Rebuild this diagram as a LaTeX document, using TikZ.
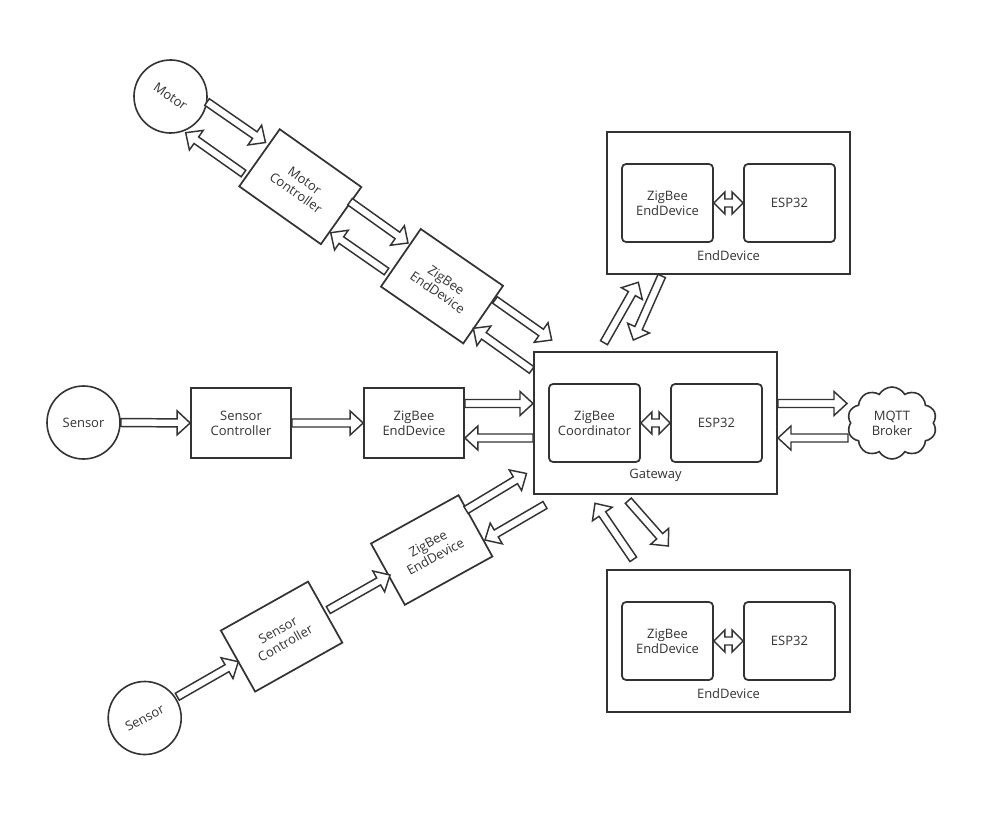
\documentclass[tikz,border=0pt]{standalone}
\usepackage{fontspec}
\setmainfont{Open Sans}
\usetikzlibrary{calc,shapes.symbols}
\definecolor{ink}{HTML}{333333}
\newcommand{\fs}{\fontsize{9.75}{11.3}\selectfont}
\tikzset{
  outer/.style={draw=ink, line width=1.5pt, minimum width=182.25pt, minimum height=106.5pt},
  inner/.style={draw=ink, line width=1.3pt, rounded corners=3pt, minimum width=68.25pt, minimum height=58.5pt, align=center, font=\fs, text=ink, inner sep=0pt},
  box/.style={draw=ink, line width=1.3pt, minimum width=75pt, minimum height=52.5pt, align=center, font=\fs, text=ink, inner sep=0pt},
  circ/.style={circle, draw=ink, line width=1.2pt, minimum size=54.75pt, inner sep=0pt, font=\fs, text=ink},
  lab/.style={font=\fs, text=ink, inner sep=0pt},
  blk/.style={draw=ink, line width=1.1pt, fill=white, line join=miter},
  cloudbox/.style={cloud, cloud puffs=10, cloud puff arc=120, aspect=1.25, draw=ink, line width=1.2pt, minimum width=67pt, minimum height=54pt, align=center, font=\fs, text=ink, inner sep=0pt}
}
\newcommand{\barrow}[2]{%
  \path (#1) coordinate (ba) (#2) coordinate (bb);
  \path ($(bb)!9.75pt!(ba)$) coordinate (bc);
  \draw[blk] ($(ba)!3pt!90:(bb)$) -- ($(bc)!3pt!-90:(ba)$) -- ($(bc)!9pt!-90:(ba)$) -- (bb)
    -- ($(bc)!9pt!90:(ba)$) -- ($(bc)!3pt!90:(ba)$) -- ($(ba)!3pt!-90:(bb)$) -- cycle;}
\newcommand{\dbarrow}[2]{%
  \path (#1) coordinate (ba) (#2) coordinate (bb);
  \path ($(bb)!8.25pt!(ba)$) coordinate (bc) ($(ba)!8.25pt!(bb)$) coordinate (bd);
  \draw[blk] (ba) -- ($(bd)!8.25pt!90:(bb)$) -- ($(bd)!3pt!90:(bb)$) -- ($(bc)!3pt!-90:(ba)$)
    -- ($(bc)!8.25pt!-90:(ba)$) -- (bb) -- ($(bc)!8.25pt!90:(ba)$) -- ($(bc)!3pt!90:(ba)$)
    -- ($(bd)!3pt!-90:(bb)$) -- ($(bd)!8.25pt!-90:(bb)$) -- cycle;}
\begin{document}
\begin{tikzpicture}[x=0.75pt, y=-0.75pt]
\useasboundingbox (0,0) rectangle (999,825);

% Gateway
\node[outer] (gw) at (655.5,423) {};
\node[inner] (coord) at (594.5,423) {ZigBee\\Coordinator};
\node[inner] (gesp) at (716.5,423) {ESP32};
\node[lab] (gwl) at (655.5,475.5) {Gateway};

% Top EndDevice
\node[outer] (ed1) at (728.5,203) {};
\node[inner] (ed1z) at (667.5,203) {ZigBee\\EndDevice};
\node[inner] (ed1e) at (789.5,203) {ESP32};
\node[lab] (ed1l) at (728.5,255.5) {EndDevice};

% Bottom EndDevice
\node[outer] (ed2) at (728.5,641) {};
\node[inner] (ed2z) at (667.5,641) {ZigBee\\EndDevice};
\node[inner] (ed2e) at (789.5,641) {ESP32};
\node[lab] (ed2l) at (728.5,693.5) {EndDevice};

% MQTT
\node[cloudbox] (mqtt) at (892,423) {MQTT\\Broker};

% Middle chain
\node[circ] (s1) at (83.5,422.5) {Sensor};
\node[box] (sc1) at (241,423) {Sensor\\Controller};
\node[box] (zb1) at (414,423) {ZigBee\\EndDevice};

% Top-left chain
\node[circ, rotate=-35] (motor) at (170.5,96.5) {Motor};
\node[box, rotate=-35.3] (mc) at (300.3,186.7) {Motor\\Controller};
\node[box, rotate=-34.6] (zb2) at (442,286.2) {ZigBee\\EndDevice};

% Bottom-left chain
\node[circ, rotate=28] (s2) at (144.7,718) {Sensor};
\node[box, rotate=29.3] (sc2) at (281.6,636.6) {Sensor\\Controller};
\node[box, rotate=28.9] (zb3) at (431.7,550) {ZigBee\\EndDevice};

% inner double arrows
\dbarrow{coord.east}{gesp.west}
\dbarrow{ed1z.east}{ed1e.west}
\dbarrow{ed2z.east}{ed2e.west}

% horizontal arrows
\barrow{s1.east}{sc1.west}
\barrow{sc1.east}{zb1.west}
\barrow{$(zb1.east)+(0,-19.5)$}{$(gw.west)+(0,-19.5)$}
\barrow{$(gw.west)+(0,15)$}{$(zb1.east)+(0,15)$}
\barrow{$(gw.east)+(0,-19.5)$}{847,403.5}
\barrow{848,438}{$(gw.east)+(0,15)$}

% top-left chain arrows
\barrow{207,102}{265.5,142.5}
\barrow{243.5,173.5}{185.7,132.7}
\barrow{350,201.7}{408,243}
\barrow{386.5,271.5}{330.7,232.7}
\barrow{495,300}{551.7,340}
\barrow{531.7,370}{473.3,328.3}

% vertical-ish to end devices
\barrow{604,342.7}{638.3,282.3}
\barrow{661.7,276}{633.3,340}
\barrow{633.3,559.3}{595,503.3}
\barrow{628.3,500.7}{668.3,546}

% bottom-left chain arrows
\barrow{177.3,696.7}{238.3,661.7}
\barrow{328.3,610}{390,575}
\barrow{466,510}{526.5,473.5}
\barrow{545,505}{485,540}
\end{tikzpicture}
\end{document}
